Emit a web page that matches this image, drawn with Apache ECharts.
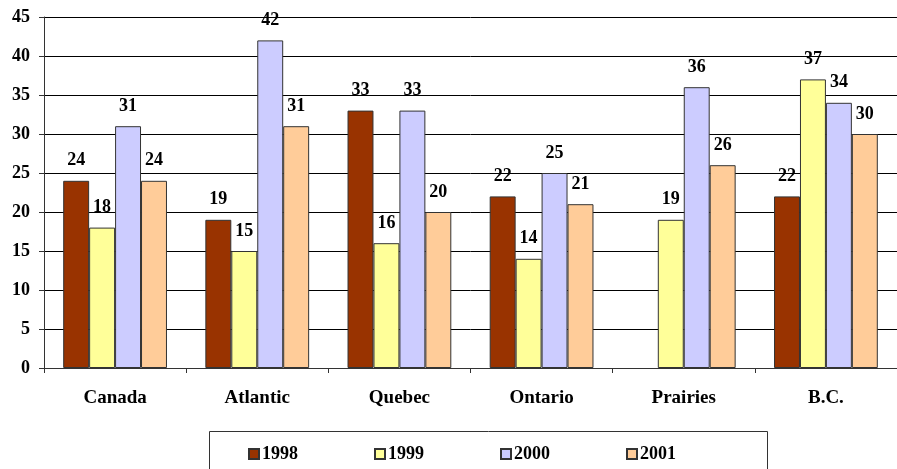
<!DOCTYPE html>
<html><head><meta charset="utf-8">
<script src="https://cdn.jsdelivr.net/npm/echarts@6/dist/echarts.min.js"></script>
<style>html,body{margin:0;padding:0;background:#fff}#c{width:897px;height:469px}</style>
</head><body><div id="c"></div>
<script>
const categories = ['Canada','Atlantic','Quebec','Ontario','Prairies','B.C.'];
const years = ['1998','1999','2000','2001'];
const v1998 = [24, 19, 33, 22, null, 22];
const v1999 = [18, 15, 16, 14, 19, 37];
const v2000 = [31, 42, 33, 25, 36, 34];
const v2001 = [24, 31, 20, 21, 26, 30];
const yTicks = [0, 45, 5];
const colors = ['#993300','#FFFF99','#CCCCFF','#FFCC99'];
const allValues = [v1998, v1999, v2000, v2001];
const font = '"Liberation Serif", "DejaVu Serif", serif';

const chart = echarts.init(document.getElementById('c'));
chart.setOption({
  animation: false,
  backgroundColor: '#fff',
  textStyle: {fontFamily: font},
  grid: {left: 44, right: -7, top: 17, bottom: 101, containLabel: false},
  legend: {
    data: years,
    left: 243, top: 440,
    itemWidth: 10, itemHeight: 10, itemGap: 76,
    icon: 'rect',
    textStyle: {fontFamily: font, fontWeight: 'bold', fontSize: 18, color: '#000', padding: [0,0,0,-2]}
  },
  graphic: [{type: 'rect', shape: {x: 209.5, y: 431.5, width: 558, height: 50}, style: {fill: 'none', stroke: '#333', lineWidth: 1}, silent: true}],
  xAxis: {
    type: 'category', data: categories,
    axisLine: {lineStyle: {color: '#333'}},
    axisTick: {show: true, length: 5, lineStyle: {color: '#333'}},
    axisLabel: {fontFamily: font, fontWeight: 'bold', fontSize: 19, color: '#000', margin: 21}
  },
  yAxis: {
    type: 'value', min: yTicks[0], max: yTicks[1], interval: yTicks[2],
    axisLine: {show: true, lineStyle: {color: '#333'}},
    axisTick: {show: true, length: 5, lineStyle: {color: '#333'}},
    splitLine: {lineStyle: {color: '#000'}},
    axisLabel: {fontFamily: font, fontWeight: 'bold', fontSize: 18, color: '#000', margin: 14}
  },
  series: years.map((y, i) => ({
    name: y, type: 'bar', data: allValues[i],
    barGap: '0%', barCategoryGap: '27%',
    itemStyle: {color: colors[i], borderColor: '#333', borderWidth: 1},
    label: {show: true, position: 'top', distance: 11, fontFamily: font, fontWeight: 'bold', fontSize: 18, color: '#000'}
  }))
});
</script></body></html>
